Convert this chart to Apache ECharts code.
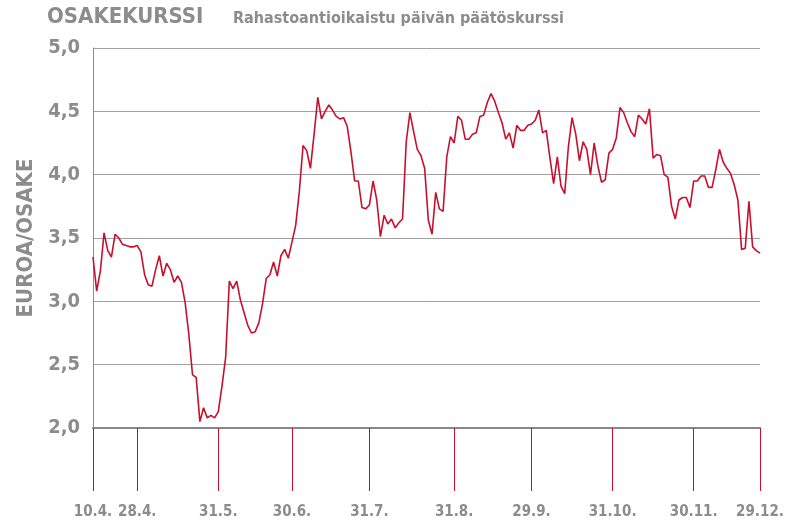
<!DOCTYPE html>
<html>
<head>
<meta charset="utf-8">
<script src="https://cdn.jsdelivr.net/npm/echarts@6/dist/echarts.min.js"></script>
<style>
html,body{margin:0;padding:0;background:#fff;}
#chart{width:789px;height:520px;}
</style>
</head>
<body>
<div id="chart"></div>
<script>
// Tick labels and their positions (trading-day index)
const tickLabels = ['10.4.', '28.4.', '31.5.', '30.6.', '31.7.', '31.8.', '29.9.', '31.10.', '30.11.', '29.12.'];
const tickIndex = [0, 12, 34, 54, 75, 98, 119, 141, 163, 181];

// Daily closing price, EUR/share (one value per trading day)
const prices = [
  3.35, 3.08, 3.24, 3.54, 3.40, 3.35, 3.53, 3.50, 3.45, 3.44,
  3.43, 3.43, 3.44, 3.39, 3.21, 3.13, 3.12, 3.25, 3.36, 3.20,
  3.30, 3.25, 3.15, 3.20, 3.15, 2.99, 2.74, 2.42, 2.40, 2.05,
  2.16, 2.08, 2.10, 2.08, 2.13, 2.33, 2.56, 3.16, 3.10, 3.16,
  3.01, 2.91, 2.81, 2.75, 2.76, 2.83, 2.98, 3.18, 3.21, 3.31,
  3.20, 3.36, 3.41, 3.34, 3.47, 3.60, 3.87, 4.23, 4.19, 4.05,
  4.32, 4.61, 4.44, 4.50, 4.55, 4.51, 4.46, 4.44, 4.45, 4.38,
  4.18, 3.95, 3.95, 3.74, 3.73, 3.76, 3.95, 3.80, 3.51, 3.68,
  3.61, 3.65, 3.58, 3.62, 3.65, 4.26, 4.49, 4.34, 4.20, 4.15,
  4.05, 3.64, 3.53, 3.86, 3.73, 3.71, 4.14, 4.30, 4.25, 4.46,
  4.43, 4.28, 4.28, 4.32, 4.33, 4.46, 4.47, 4.57, 4.64, 4.58,
  4.49, 4.41, 4.28, 4.33, 4.21, 4.39, 4.35, 4.35, 4.39, 4.40,
  4.43, 4.51, 4.33, 4.35, 4.13, 3.93, 4.14, 3.91, 3.85, 4.22,
  4.45, 4.32, 4.11, 4.26, 4.20, 4.00, 4.25, 4.07, 3.94, 3.96,
  4.17, 4.20, 4.29, 4.53, 4.49, 4.41, 4.34, 4.30, 4.47, 4.44,
  4.40, 4.52, 4.13, 4.16, 4.15, 4.00, 3.98, 3.75, 3.65, 3.80,
  3.82, 3.82, 3.74, 3.95, 3.95, 3.99, 3.99, 3.90, 3.90, 4.04,
  4.20, 4.10, 4.05, 4.01, 3.92, 3.80, 3.41, 3.42, 3.79, 3.43,
  3.40, 3.38
];

const yMin = 2.0, yMax = 5.0, yStep = 0.5;

const categories = prices.map((_, i) => {
  const k = tickIndex.indexOf(i);
  return k >= 0 ? tickLabels[k] : '';
});

const FONT = "'DejaVu Sans Condensed', 'DejaVu Sans', sans-serif";
const GRAY = '#8c8c8c';
const RED = '#c8102e';

const chart = echarts.init(document.getElementById('chart'), null, {renderer: 'canvas'});
chart.setOption({
  animation: false,
  backgroundColor: '#fff',
  title: [
    {text: 'OSAKEKURSSI', left: 47, top: 6, padding: 0,
     textStyle: {fontFamily: FONT, fontSize: 22, fontWeight: 'bold', color: GRAY}},
    {text: 'Rahastoantioikaistu päivän päätöskurssi', left: 233, top: 11, padding: 0,
     textStyle: {fontFamily: FONT, fontSize: 16, fontWeight: 'bold', color: GRAY}}
  ],
  grid: {left: 93, top: 48, width: 667, height: 380, containLabel: false},
  xAxis: {
    type: 'category',
    data: categories,
    boundaryGap: false,
    axisLine: {show: true, lineStyle: {color: '#888', width: 2}},
    axisTick: {show: true, length: 63, interval: (i, v) => v !== '', lineStyle: {color: RED, width: 1}},
    axisLabel: {show: true, interval: (i, v) => v !== '', margin: 77, fontFamily: FONT, fontSize: 15, fontWeight: 'bold', color: GRAY},
    splitLine: {show: false}
  },
  yAxis: {
    type: 'value',
    min: yMin, max: yMax, interval: yStep,
    name: 'EUROA/OSAKE',
    nameLocation: 'middle',
    nameRotate: 90,
    nameGap: 56,
    nameTextStyle: {fontFamily: FONT, fontSize: 22, fontWeight: 'bold', color: GRAY},
    axisLine: {show: true, lineStyle: {color: '#8c8c8c', width: 1}},
    axisTick: {show: false},
    axisLabel: {margin: 13, fontFamily: FONT, fontSize: 20, fontWeight: 'bold', color: GRAY,
      formatter: v => v.toFixed(1).replace('.', ',')},
    splitLine: {show: true, lineStyle: {color: '#a0a0a0', width: 1}}
  },
  series: [{
    type: 'line',
    data: prices,
    showSymbol: false,
    symbol: 'none',
    lineStyle: {color: RED, width: 1.6},
    z: 3
  }]
});
</script>
</body>
</html>
